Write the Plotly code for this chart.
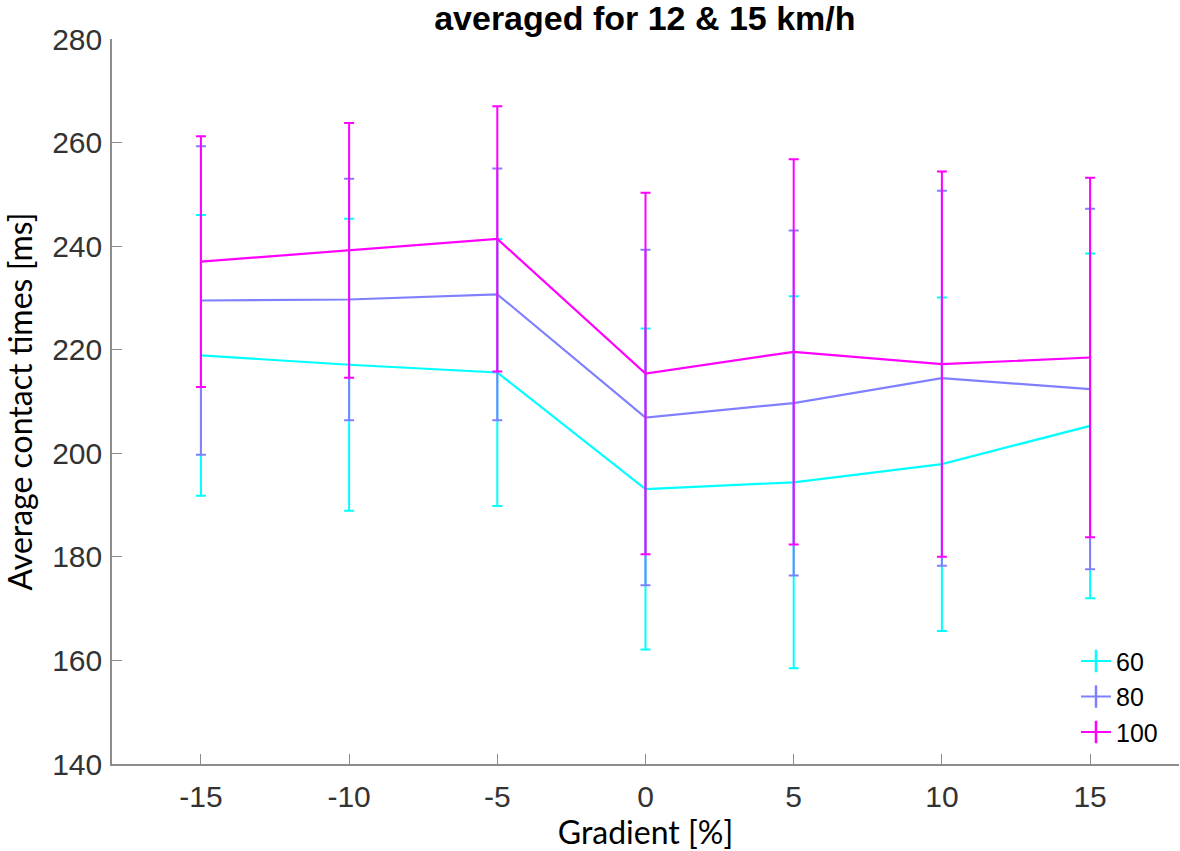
import plotly.graph_objects as go

gradient = [-15, -10, -5, 0, 5, 10, 15]
series_names = ["60", "80", "100"]

mean_60 = [218.9, 217.1, 215.6, 193.1, 194.4, 197.9, 205.3]
err_60 = [27.1, 28.2, 25.8, 31.0, 35.9, 32.2, 33.3]

mean_80 = [229.5, 229.7, 230.7, 206.9, 209.7, 214.5, 212.4]
err_80 = [29.8, 23.3, 24.3, 32.4, 33.3, 36.2, 34.8]

mean_100 = [237.0, 239.2, 241.4, 215.4, 219.6, 217.2, 218.5]
err_100 = [24.2, 24.6, 25.6, 34.9, 37.2, 37.2, 34.7]

colors = ["#00FFFF", "#8080FF", "#FF00FF"]
means = [mean_60, mean_80, mean_100]
errs = [err_60, err_80, err_100]

y_ticks = [140, 160, 180, 200, 220, 240, 260, 280]

fig = go.Figure()
for name, m, e, c in zip(series_names, means, errs, colors):
    fig.add_trace(go.Scatter(
        x=gradient, y=m, mode="lines", name=name, showlegend=False,
        line=dict(color=c, width=2.2),
        error_y=dict(type="data", array=e, visible=True, color=c, thickness=2, width=5),
    ))
# legend entries (no data)
for name, c in zip(series_names, colors):
    fig.add_trace(go.Scatter(
        x=[None], y=[None], mode="lines+markers", name=name,
        line=dict(color=c, width=2),
        marker=dict(symbol="line-ns", size=22, line=dict(color=c, width=2.5), color=c),
    ))

fig.update_layout(
    width=1180, height=851,
    margin=dict(l=112, r=1, t=39, b=87, pad=0),
    paper_bgcolor="white", plot_bgcolor="white",
    title=dict(
        text="averaged for 12 & 15 km/h",
        font=dict(family="Liberation Sans, Arial", size=34, color="black", weight="bold"),
        x=0.5465, xanchor="center", xref="container",
        y=0.993, yanchor="top", yref="container", pad=dict(t=0, b=0),
    ),
    legend=dict(
        x=0.985, xanchor="right", y=0.012, yanchor="bottom",
        font=dict(family="Liberation Sans, Arial", size=25, color="black"),
        bgcolor="rgba(255,255,255,0)", borderwidth=0,
        tracegroupgap=0, itemwidth=30,
    ),
    showlegend=True,
)

fig.update_xaxes(
    range=[-18, 18], tickvals=gradient, ticktext=[str(g) for g in gradient],
    showgrid=False, zeroline=False,
    showline=True, linecolor="#8c8c8c", linewidth=1.5,
    ticks="inside", ticklen=10, tickwidth=1.2, tickcolor="#8c8c8c",
    tickfont=dict(family="Liberation Sans, Arial", size=30, color="#333333"),
    ticklabelstandoff=5,
    title=dict(text="Gradient [%]", font=dict(family="Lato", size=32, color="black"), standoff=8),
    mirror=False,
)
fig.update_yaxes(
    range=[140, 280], tickvals=y_ticks,
    showgrid=False, zeroline=False,
    showline=True, linecolor="#8c8c8c", linewidth=1.5,
    ticks="inside", ticklen=10, tickwidth=1.2, tickcolor="#8c8c8c",
    tickfont=dict(family="Liberation Sans, Arial", size=30, color="#333333"),
    ticklabelstandoff=2,
    title=dict(text="Average contact times [ms]", font=dict(family="Lato", size=32, color="black"), standoff=22),
    mirror=False,
)

fig.write_html(
    "out.html",
    config={"displayModeBar": False},
    post_script="document.body.style.margin='0';document.body.style.overflow='hidden';",
)
